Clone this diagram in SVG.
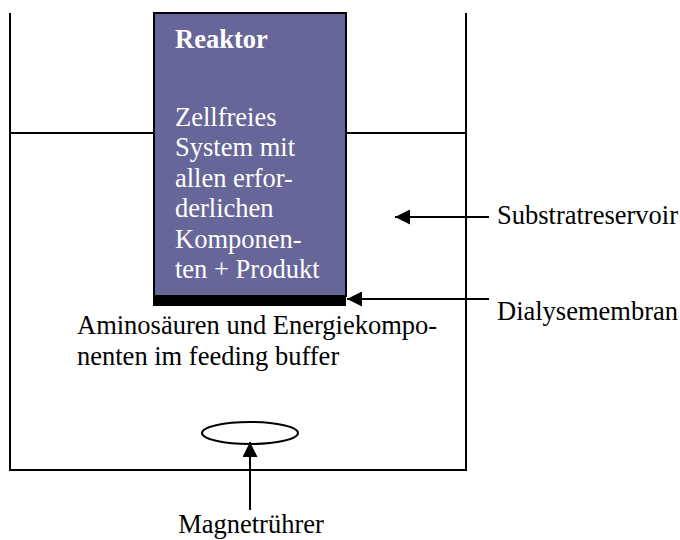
<svg xmlns="http://www.w3.org/2000/svg" width="680" height="540" viewBox="0 0 680 540">
<style>
.t{font-family:"Liberation Serif","Times New Roman",serif;font-size:26.5px;fill:#000}
.w{fill:#fff}
.ln{stroke:#000;stroke-width:2;fill:none}
</style>
<defs>
<marker id="ah" markerWidth="15" markerHeight="15" viewBox="0 0 15 15" refX="15" refY="7.5" orient="auto" markerUnits="userSpaceOnUse">
<path d="M0,0 L15,7.5 L0,15 Z" fill="#000"/>
</marker>
</defs>
<rect width="680" height="540" fill="#fff"/>
<g id="gefaess">
<path class="ln" d="M10,13 V470 H466 V13"/>
<line class="ln" x1="10" y1="133" x2="154" y2="133"/>
<line class="ln" x1="346" y1="133" x2="466" y2="133"/>
</g>
<g id="reaktor">
<rect x="154" y="13" width="192" height="283" fill="#666699" stroke="#000" stroke-width="2"/>
<rect x="153" y="295" width="193" height="11" fill="#000"/>
<text class="t w" x="175" y="48" font-weight="bold">Reaktor</text>
<text class="t w" x="175" y="126">Zellfreies</text>
<text class="t w" x="175" y="156.4">System mit</text>
<text class="t w" x="175" y="186.8">allen erfor-</text>
<text class="t w" x="175" y="217.2">derlichen</text>
<text class="t w" x="175" y="247.6">Komponen-</text>
<text class="t w" x="175" y="278">ten + Produkt</text>
</g>
<g id="puffer">
<text class="t" x="77" y="334">Aminosäuren und Energiekompo-</text>
<text class="t" x="77" y="365">nenten im feeding buffer</text>
</g>
<g id="ruehrer">
<ellipse class="ln" cx="250" cy="433" rx="48" ry="11"/>
</g>
<g id="labels">
<text class="t" x="497" y="224">Substratreservoir</text>
<text class="t" x="497" y="320">Dialysemembran</text>
<text class="t" x="251" y="533" text-anchor="middle">Magnetrührer</text>
</g>
<g id="connectors">
<line class="ln" x1="489" y1="217" x2="395" y2="217" marker-end="url(#ah)"/>
<line class="ln" x1="489" y1="299" x2="347" y2="299" marker-end="url(#ah)"/>
<line class="ln" x1="250" y1="510" x2="250" y2="442" marker-end="url(#ah)"/>
</g>
</svg>
